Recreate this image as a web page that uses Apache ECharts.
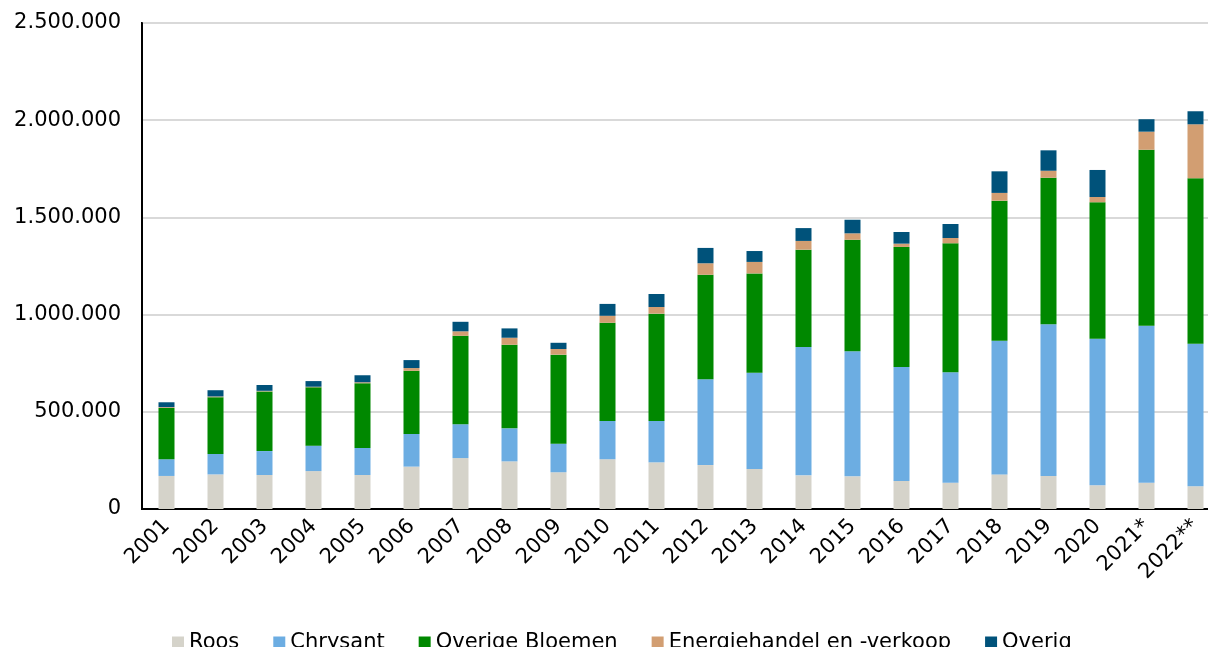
<!DOCTYPE html>
<html>
<head>
<meta charset="utf-8">
<script src="https://cdn.jsdelivr.net/npm/echarts@6/dist/echarts.min.js"></script>
<style>
  html, body { margin: 0; padding: 0; background: #fff; overflow: hidden; }
  /* plotvlak loopt in het origineel iets voorbij de rechterrand */
  #chart { width: 1220px; height: 647px; }
</style>
</head>
<body>
<div id="chart"></div>
<script>
// jaren (categorieen)
var years = ['2001', '2002', '2003', '2004', '2005', '2006', '2007', '2008', '2009', '2010', '2011',
	'2012', '2013', '2014', '2015', '2016', '2017', '2018', '2019', '2020', '2021*', '2022**'];

// waarden per reeks
var roos = [170000, 178000, 175000, 195000, 175000, 218000, 262000, 245000, 189000, 256000, 240000,
	226000, 206000, 173000, 168000, 144000, 135000, 178000, 170000, 122000, 135000, 117000];
var chrysant = [86000, 105000, 123000, 131000, 139000, 168000, 174000, 170000, 147000, 197000, 213000,
	441000, 495000, 660000, 643000, 586000, 568000, 688000, 780000, 754000, 808000, 733000];
var overigeBloemen = [264000, 292000, 307000, 300000, 333000, 325000, 455000, 430000, 458000, 505000, 552000,
	538000, 511000, 501000, 574000, 618000, 664000, 720000, 754000, 702000, 905000, 851000];
var energie = [4000, 4000, 3000, 3000, 5000, 14000, 23000, 36000, 29000, 36000, 34000,
	59000, 59000, 45000, 33000, 17000, 27000, 40000, 36000, 27000, 93000, 278000];
var overig = [25000, 32000, 30000, 29000, 36000, 41000, 49000, 48000, 32000, 61000, 67000,
	79000, 56000, 66000, 70000, 60000, 72000, 111000, 105000, 139000, 64000, 67000];

// as-labels
var yTicks = [0, 500000, 1000000, 1500000, 2000000, 2500000];

var seriesDefs = [
	{ name: 'Roos', data: roos, color: '#d5d3ca' },
	{ name: 'Chrysant', data: chrysant, color: '#6cade2' },
	{ name: 'Overige Bloemen', data: overigeBloemen, color: '#008800' },
	{ name: 'Energiehandel en -verkoop', data: energie, color: '#d29e72' },
	{ name: 'Overig', data: overig, color: '#00527a' }
];

function fmt(v) {
	return String(v).replace(/\B(?=(\d{3})+(?!\d))/g, '.');
}

var myChart = echarts.init(document.getElementById('chart'));

var series = [];
for (var i = 0; i < seriesDefs.length; i++) {
	series.push({
		type: 'bar',
		name: seriesDefs[i].name,
		stack: 'totaal',
		data: seriesDefs[i].data,
		barWidth: 16,
		itemStyle: { color: seriesDefs[i].color },
		emphasis: { disabled: true }
	});
}

var option = {
	animation: false,
	textStyle: { fontFamily: 'DejaVu Sans' },
	grid: {
		left: 142,
		right: 0,
		top: 23,
		bottom: 138,
		show: true,
		borderColor: '#000',
		borderWidth: 2,
		backgroundColor: 'transparent'
	},
	legend: {
		left: 167,
		top: 627,
		itemWidth: 12,
		itemHeight: 12,
		itemGap: 34,
		icon: 'rect',
		textStyle: {
			color: '#000',
			fontSize: 21,
			fontFamily: 'DejaVu Sans'
		},
		data: seriesDefs.map(function (s) { return s.name; })
	},
	xAxis: {
		type: 'category',
		data: years,
		axisLine: { lineStyle: { color: '#000', width: 2 } },
		axisTick: { show: false },
		axisLabel: {
			rotate: 45,
			margin: 14,
			interval: 0,
			color: '#000',
			fontSize: 21,
			fontFamily: 'DejaVu Sans'
		}
	},
	yAxis: {
		type: 'value',
		min: yTicks[0],
		max: yTicks[yTicks.length - 1],
		interval: yTicks[1] - yTicks[0],
		axisLine: { show: true, lineStyle: { color: '#000', width: 2 } },
		axisTick: { show: false },
		axisLabel: {
			margin: 21,
			color: '#000',
			fontSize: 21,
			fontFamily: 'DejaVu Sans',
			formatter: function (v) { return fmt(v); }
		},
		splitLine: {
			show: true,
			lineStyle: { color: '#d9d9d9', width: 2 }
		}
	},
	series: series
};

myChart.setOption(option);
</script>
</body>
</html>
